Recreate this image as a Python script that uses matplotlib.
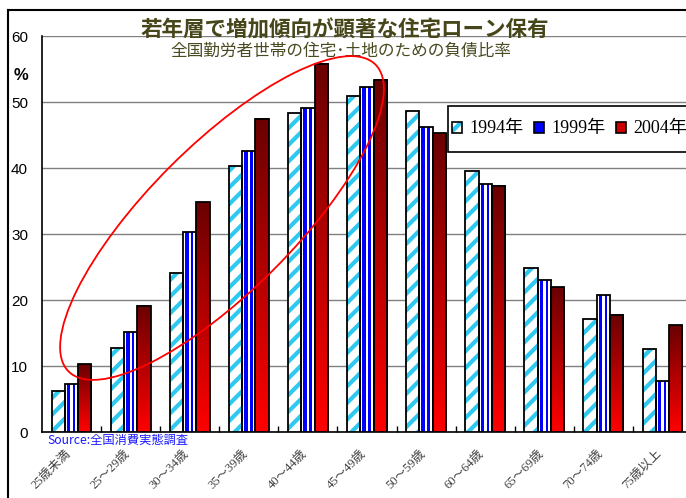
import numpy as np
import matplotlib
matplotlib.use('Agg')
import matplotlib.pyplot as plt
from matplotlib.patches import Patch, Ellipse, Rectangle
from matplotlib.lines import Line2D
from matplotlib.colors import LinearSegmentedColormap

# -----------------------------
# data
# -----------------------------
ages = ['25歳未満', '25～29歳', '30～34歳', '35～39歳', '40～44歳', '45～49歳',
        '50～59歳', '60～64歳', '65～69歳', '70～74歳', '75歳以上']
years = ['1994年', '1999年', '2004年']
v1994 = [6.2, 12.8, 24.1, 40.3, 48.3, 50.9, 48.7, 39.6, 24.8, 17.1, 12.6]
v1999 = [7.3, 15.1, 30.3, 42.6, 49.1, 52.3, 46.2, 37.5, 23.0, 20.8, 7.8]
v2004 = [10.3, 19.1, 34.8, 47.5, 55.8, 53.4, 45.3, 37.3, 21.9, 17.8, 16.2]
yticks = [0, 10, 20, 30, 40, 50, 60]

title = '若年層で増加傾向が顕著な住宅ローン保有'
subtitle = '全国勤労者世帯の住宅･土地のための負債比率'
source = 'Source:全国消費実態調査'

plt.rcParams['font.family'] = ['Liberation Sans', 'Noto Sans CJK JP']
plt.rcParams['hatch.linewidth'] = 3.0

W, H = 686, 498
fig = plt.figure(figsize=(W / 100, H / 100), dpi=100)
ax = fig.add_axes([42 / W, 1 - 432 / H, 650 / W, 396 / H])

x = np.arange(len(ages))
bw = 0.225
cyan = '#2ec8f0'
blue = '#0000ff'

# 1994: white with cyan diagonal stripes
ax.bar(x - bw, v1994, bw, color='white', edgecolor=cyan, hatch='//', linewidth=0, zorder=3)
ax.bar(x - bw, v1994, bw, fill=False, edgecolor='black', linewidth=1.3, zorder=4)

# 1999: white with blue vertical stripes
ax.bar(x, v1999, bw, color='white', linewidth=0, zorder=3)
ax.bar(x - bw * 0.215, v1999, bw * 0.27, color=blue, linewidth=0, zorder=3)
ax.bar(x + bw * 0.19, v1999, bw * 0.18, color=blue, linewidth=0, zorder=3)
ax.bar(x, v1999, bw, fill=False, edgecolor='black', linewidth=1.3, zorder=4)

# 2004: vertical gradient, dark red on top
cmap = LinearSegmentedColormap.from_list('rd', ['#ff0000', '#6a0000'])
grad = np.linspace(0, 1, 256).reshape(-1, 1)
for xi, v in zip(x, v2004):
    ax.imshow(grad, cmap=cmap, origin='lower', aspect='auto',
              extent=(xi + bw / 2, xi + 1.5 * bw, 0, v), zorder=3)
ax.bar(x + bw, v2004, bw, fill=False, edgecolor='black', linewidth=1.3, zorder=4)

ax.set_xlim(-0.5, len(ages) - 0.5)
ax.set_ylim(0, 60)
ax.set_yticks(yticks)
ax.set_yticklabels([str(t) for t in yticks], fontsize=11)
ax.yaxis.grid(True, color='#808080', linewidth=1.0)
ax.set_axisbelow(True)
ax.tick_params(axis='y', length=0, pad=10)

ax.set_xticks(x)
ax.set_xticklabels([])
ax.set_xticks(np.arange(0.5, len(ages) - 0.5, 1), minor=True)
ax.tick_params(axis='x', which='major', length=0)
ax.tick_params(axis='x', which='minor', direction='in', length=4, width=1)
for xi, lab in zip(x, ages):
    ax.annotate(lab, xy=(xi, 0), xycoords='data', xytext=(-5, -11), textcoords='offset points',
                rotation=45, ha='right', va='top', rotation_mode='anchor',
                fontsize=9, color='#404040', family=['Liberation Serif', 'Noto Sans CJK JP'])

for s in ['top', 'right']:
    ax.spines[s].set_visible(False)
ax.spines['left'].set_linewidth(1.2)
ax.spines['bottom'].set_linewidth(1.2)

# legend: frame drawn separately so the padding can match
fig.add_artist(Rectangle((448 / W, 1 - 152 / H), 260 / W, 46 / H, transform=fig.transFigure,
                         facecolor='white', edgecolor='black', linewidth=1.2, zorder=4))
handles = [(Patch(facecolor='white', edgecolor=cyan, hatch='//', linewidth=0),
            Patch(fill=False, edgecolor='black', linewidth=1.2)),
           Patch(facecolor=blue, edgecolor='black', linewidth=1.2),
           Patch(facecolor='#cc0000', edgecolor='black', linewidth=1.2)]
leg = fig.legend(handles, years, loc='center left', bbox_to_anchor=(452 / W, 1 - 129 / H),
                 ncol=3, frameon=False, handlelength=0.55, handleheight=0.55,
                 handletextpad=0.4, columnspacing=0.6, borderpad=0, borderaxespad=0,
                 prop={'family': ['Liberation Serif', 'Noto Sans CJK JP'], 'size': 13})
leg.set_zorder(5)

# titles and notes
fig.text(0.503, 1 - 30 / H, title, ha='center', va='center', fontsize=15.5,
         fontweight='bold', color='#46461a', family=['Noto Sans CJK JP'])
fig.text(0.497, 1 - 51 / H, subtitle, ha='center', va='center', fontsize=12,
         color='#4a4a22', family=['Noto Sans CJK JP'])
fig.text(21 / W, 1 - 75 / H, '%', ha='center', va='center', fontsize=12, fontweight='bold')
fig.text(47 / W, 1 - 440 / H, source, ha='left', va='center', fontsize=8.8,
         color='#1a1aff', family=['Noto Sans CJK JP'])

# highlight ellipse (drawn in inches)
fig.add_artist(Ellipse((2.22, (H - 218) / 100), 4.34, 1.46, angle=45, fill=False,
                       edgecolor='#ff0000', linewidth=1.3,
                       transform=fig.dpi_scale_trans, zorder=10))

# outer chart frame
fig.add_artist(Line2D([8 / W, 8 / W], [0, 1 - 10 / H], color='black', linewidth=1.5,
                      transform=fig.transFigure))
fig.add_artist(Line2D([8 / W, 1], [1 - 10 / H, 1 - 10 / H], color='black', linewidth=1.5,
                      transform=fig.transFigure))

fig.savefig('out.png', dpi=100)
